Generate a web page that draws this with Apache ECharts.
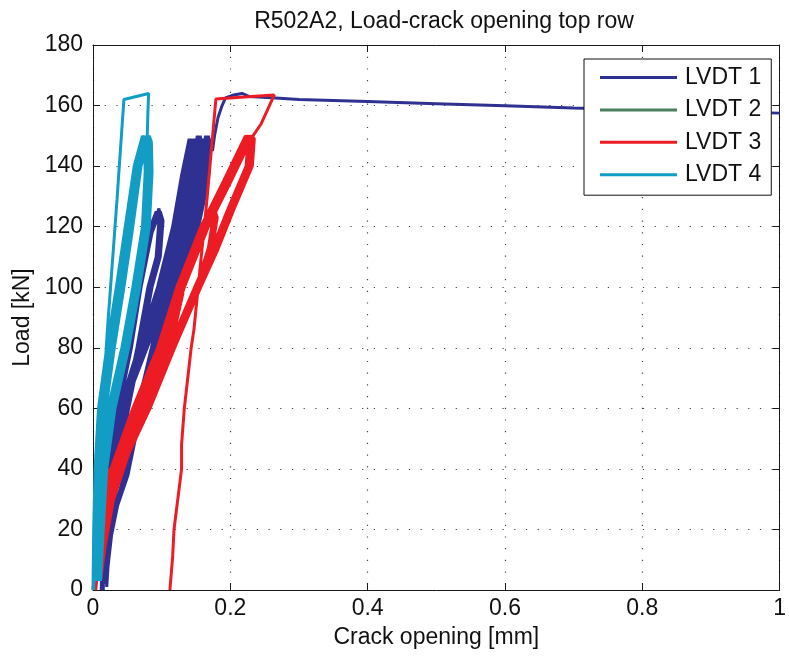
<!DOCTYPE html>
<html>
<head>
<meta charset="utf-8">
<script src="https://cdn.jsdelivr.net/npm/echarts@6/dist/echarts.min.js"></script>
<style>html,body{margin:0;padding:0;background:#fff}#c{width:789px;height:659px}</style>
</head>
<body>
<div id="c"></div>
<script>
const titleText = 'R502A2, Load-crack opening top row';
const xName = 'Crack opening [mm]';
const yName = 'Load [kN]';
const seriesNames = ['LVDT 1', 'LVDT 2', 'LVDT 3', 'LVDT 4'];
const seriesColors = ['#2e3192', '#4b7f5e', '#ed1c24', '#119dc4'];

// LVDT 1 : [crack opening mm, load kN]
const lvdt1 = [
  [0.012,0],[0.014,20],[0.018,40],[0.016,25],[0.014,5],
  [0.015,0],[0.016,20],[0.021,40],[0.032,60],[0.050,80],[0.064,100],[0.080,118],[0.092,125],
  [0.096,122],[0.092,110],[0.080,100],[0.064,80],[0.046,60],[0.032,40],[0.022,20],[0.017,2],
  [0.017,20],[0.022,40],[0.033,60],[0.051,80],[0.065,100],[0.081,118],[0.093,125],
  [0.097,122],[0.093,110],[0.081,100],[0.065,80],[0.047,60],[0.033,40],[0.023,20],[0.017,2],
  [0.018,20],[0.023,40],[0.034,60],[0.052,80],[0.066,100],[0.082,118],[0.094,125],
  [0.098,122],[0.094,110],[0.082,100],[0.066,80],[0.048,60],[0.034,40],[0.024,20],[0.018,2],
  [0.019,20],[0.024,40],[0.035,60],[0.053,80],[0.067,100],[0.083,118],[0.095,125],
  [0.099,122],[0.095,110],[0.083,100],[0.067,80],[0.049,60],[0.035,40],[0.024,20],[0.018,2],
  [0.020,20],[0.025,40],[0.036,60],[0.054,80],[0.068,100],[0.084,118],[0.096,126],
  [0.100,122],[0.096,110],[0.084,100],[0.068,80],[0.050,60],[0.036,40],[0.025,20],[0.019,2],
  [0.020,20],[0.026,40],[0.037,60],[0.055,80],[0.069,100],[0.085,118],[0.097,125],
  [0.101,122],[0.097,110],[0.085,100],[0.069,80],[0.051,60],[0.037,40],[0.025,20],[0.019,2],
  [0.021,20],[0.027,40],[0.038,60],[0.056,80],[0.070,100],[0.086,118],[0.098,125],
  [0.102,122],[0.098,110],[0.086,100],[0.070,80],[0.052,60],[0.038,40],[0.026,20],[0.020,2],
  [0.018,20],[0.024,40],[0.038,60],[0.066,80],[0.094,100],[0.116,120],[0.129,137],[0.140,149],
  [0.143,147],[0.140,135],[0.124,118],[0.104,100],[0.085,80],[0.064,60],[0.055,48],[0.045,38],[0.033,28],[0.026,18],[0.022,8],[0.020,1],
  [0.018,20],[0.025,40],[0.039,60],[0.067,80],[0.096,100],[0.120,120],[0.133,137],[0.144,149],
  [0.147,147],[0.144,135],[0.128,118],[0.106,100],[0.087,80],[0.065,60],[0.055,48],[0.046,38],[0.033,28],[0.026,18],[0.022,8],[0.020,1],
  [0.019,20],[0.025,40],[0.040,60],[0.069,80],[0.099,100],[0.123,120],[0.137,137],[0.148,149],
  [0.151,147],[0.148,135],[0.132,118],[0.108,100],[0.089,80],[0.066,60],[0.056,48],[0.047,38],[0.034,28],[0.026,18],[0.022,8],[0.020,1],
  [0.019,20],[0.025,40],[0.040,60],[0.070,80],[0.101,100],[0.127,120],[0.141,137],[0.152,150],
  [0.155,147],[0.152,135],[0.136,118],[0.110,100],[0.091,80],[0.066,60],[0.056,48],[0.047,38],[0.034,28],[0.026,18],[0.022,8],[0.020,1],
  [0.019,20],[0.026,40],[0.041,60],[0.072,80],[0.104,100],[0.130,120],[0.145,137],[0.156,150],
  [0.159,147],[0.156,135],[0.140,118],[0.112,100],[0.093,80],[0.067,60],[0.057,48],[0.048,38],[0.035,28],[0.027,18],[0.022,8],[0.020,1],
  [0.020,20],[0.026,40],[0.042,60],[0.074,80],[0.106,100],[0.134,120],[0.149,137],[0.160,149],
  [0.163,147],[0.160,135],[0.144,118],[0.114,100],[0.095,80],[0.068,60],[0.058,48],[0.049,38],[0.035,28],[0.027,18],[0.022,8],[0.020,1],
  [0.020,20],[0.027,40],[0.043,60],[0.076,80],[0.108,100],[0.138,120],[0.153,137],[0.164,150],
  [0.167,147],[0.164,135],[0.148,118],[0.116,100],[0.097,80],[0.069,60],[0.059,48],[0.050,38],[0.036,28],[0.027,18],[0.022,8],[0.020,1],
  [0.020,20],[0.027,40],[0.044,60],[0.078,80],[0.111,100],[0.141,120],[0.157,137],[0.168,150],
  [0.171,147],[0.168,135],[0.152,118],[0.118,100],[0.099,80],[0.070,60],[0.060,48],[0.051,38],[0.036,28],[0.027,18],[0.022,8],[0.020,1],
  [0.020,20],[0.028,40],[0.045,60],[0.079,80],[0.113,100],[0.145,120],[0.161,137],[0.172,149],
  [0.174,145],[0.177,150],[0.182,156],[0.188,160],[0.193,162.5],[0.205,163.5],[0.217,164],[0.227,163],
  [0.260,162.6],[0.300,162],[0.400,161.3],[0.500,160.6],[0.600,159.9],[0.700,159.2],[0.800,158.6],[0.900,158],[1.000,157.5]
];

// LVDT 2 : no visible data in the reference
const lvdt2 = [];

// LVDT 3
const lvdt3 = [
  [0.000,0],[0.004,10],[0.008,20],[0.014,30],[0.024,40],[0.020,35],[0.012,20],[0.006,5],
  [0.004,0],[0.006,10],[0.009,20],[0.015,30],[0.026,40],[0.042,50],[0.058,60],[0.094,80],[0.122,100],[0.126,101],
  [0.128,98],[0.118,88],[0.100,75],[0.074,60],[0.043,45],[0.025,30],[0.014,15],[0.008,3],
  [0.007,10],[0.011,20],[0.017,30],[0.029,40],[0.045,50],[0.061,60],[0.097,80],[0.125,100],[0.129,101],
  [0.131,98],[0.121,88],[0.103,75],[0.077,60],[0.046,45],[0.027,30],[0.016,15],[0.009,3],
  [0.007,10],[0.010,20],[0.017,30],[0.028,40],[0.044,50],[0.060,60],[0.096,80],[0.124,100],[0.159,120],[0.172,125],
  [0.175,123],[0.168,113],[0.150,100],[0.112,80],[0.076,60],[0.045,45],[0.026,30],[0.015,15],[0.009,3],
  [0.008,10],[0.012,20],[0.019,30],[0.031,40],[0.047,50],[0.063,60],[0.099,80],[0.127,100],[0.162,120],[0.175,125],
  [0.178,123],[0.171,113],[0.153,100],[0.115,80],[0.079,60],[0.048,45],[0.028,30],[0.016,15],[0.010,3],
  [0.009,10],[0.014,20],[0.021,30],[0.034,40],[0.050,50],[0.066,60],[0.102,80],[0.130,100],[0.165,120],[0.178,125],
  [0.181,123],[0.174,113],[0.156,100],[0.118,80],[0.082,60],[0.051,45],[0.030,30],[0.018,15],[0.010,3],
  [0.006,10],[0.009,20],[0.015,30],[0.026,40],[0.042,50],[0.058,60],[0.094,80],[0.122,100],[0.157,120],[0.190,135],[0.222,150],
  [0.226,149],[0.223,140],[0.195,125],[0.172,112],[0.148,100],[0.110,80],[0.074,60],[0.043,45],[0.025,30],[0.014,15],[0.008,3],
  [0.007,10],[0.010,20],[0.016,30],[0.0275,40],[0.0435,50],[0.0595,60],[0.0955,80],[0.1235,100],[0.1585,120],[0.1915,135],[0.2235,150],
  [0.2275,149],[0.2245,140],[0.1965,125],[0.1735,112],[0.1495,100],[0.1115,80],[0.0755,60],[0.0445,45],[0.026,30],[0.015,15],[0.008,3],
  [0.008,10],[0.011,20],[0.017,30],[0.029,40],[0.045,50],[0.061,60],[0.097,80],[0.125,100],[0.160,120],[0.193,135],[0.225,150],
  [0.229,149],[0.226,140],[0.198,125],[0.175,112],[0.151,100],[0.113,80],[0.077,60],[0.046,45],[0.027,30],[0.016,15],[0.009,3],
  [0.008,10],[0.012,20],[0.019,30],[0.0305,40],[0.0465,50],[0.0625,60],[0.0985,80],[0.1265,100],[0.1615,120],[0.1945,135],[0.2265,150],
  [0.2305,149],[0.2275,140],[0.1995,125],[0.1765,112],[0.1525,100],[0.1145,80],[0.0785,60],[0.0475,45],[0.028,30],[0.016,15],[0.009,3],
  [0.009,10],[0.013,20],[0.020,30],[0.032,40],[0.048,50],[0.064,60],[0.100,80],[0.128,100],[0.163,120],[0.196,135],[0.228,150],
  [0.232,149],[0.229,140],[0.201,125],[0.178,112],[0.154,100],[0.116,80],[0.080,60],[0.049,45],[0.029,30],[0.017,15],[0.010,3],
  [0.009,10],[0.014,20],[0.021,30],[0.0335,40],[0.0495,50],[0.0655,60],[0.1015,80],[0.1295,100],[0.1645,120],[0.1975,135],[0.2295,150],
  [0.2335,149],[0.2305,140],[0.2025,125],[0.1795,112],[0.1555,100],[0.1175,80],[0.0815,60],[0.0505,45],[0.030,30],[0.017,15],[0.010,3],
  [0.010,10],[0.014,20],[0.022,30],[0.035,40],[0.051,50],[0.067,60],[0.103,80],[0.131,100],[0.166,120],[0.199,135],[0.231,150],
  [0.235,149],[0.232,140],[0.204,125],[0.181,112],[0.157,100],[0.119,80],[0.083,60],[0.052,45],[0.030,30],[0.018,15],[0.011,3],
  [0.012,10],[0.016,20],[0.024,30],[0.037,40],[0.053,50],[0.069,60],[0.105,80],[0.133,100],[0.168,120],[0.201,135],[0.233,150],
  [0.245,154],[0.255,159],[0.264,163.5],[0.220,162.8],[0.179,162.2],[0.166,129],[0.147,86],[0.143,80],[0.133,60],
  [0.129,48],[0.129,40],[0.118,20],[0.116,11],[0.112,0]
];

// LVDT 4
const lvdt4 = [
  [0.000,0],[0.001,10],[0.002,20],[0.004,30],[0.003,20],[0.001,5],[0.001,20],[0.003,40],[0.006,50],[0.004,35],[0.002,20],[0.001,5],
  [0.000,0],[0.001,20],[0.003,40],[0.008,60],[0.020,80],[0.034,100],[0.047,120],[0.060,140],[0.072,150],
  [0.075,148],[0.076,138],[0.072,120],[0.058,100],[0.042,80],[0.022,60],[0.010,40],[0.005,20],[0.002,3],
  [0.0025,20],[0.0045,40],[0.0095,60],[0.0215,80],[0.0355,100],[0.0485,120],[0.0615,140],[0.0735,150],
  [0.0765,148],[0.0775,138],[0.0735,120],[0.0595,100],[0.0435,80],[0.0235,60],[0.0115,40],[0.0065,20],[0.0035,3],
  [0.004,20],[0.006,40],[0.011,60],[0.023,80],[0.037,100],[0.050,120],[0.063,140],[0.075,150],
  [0.078,148],[0.079,138],[0.075,120],[0.061,100],[0.045,80],[0.025,60],[0.013,40],[0.008,20],[0.005,3],
  [0.006,20],[0.008,40],[0.013,60],[0.025,80],[0.039,100],[0.052,120],[0.065,140],[0.077,150],
  [0.080,148],[0.081,138],[0.077,120],[0.063,100],[0.047,80],[0.027,60],[0.015,40],[0.010,20],[0.007,3],
  [0.0075,20],[0.0095,40],[0.0145,60],[0.0265,80],[0.0405,100],[0.0535,120],[0.0665,140],[0.0785,150],
  [0.0815,148],[0.0825,138],[0.0785,120],[0.0645,100],[0.0485,80],[0.0285,60],[0.0165,40],[0.0115,20],[0.0085,3],
  [0.009,20],[0.011,40],[0.016,60],[0.028,80],[0.042,100],[0.055,120],[0.068,140],[0.080,150],
  [0.083,148],[0.084,138],[0.080,120],[0.066,100],[0.050,80],[0.030,60],[0.018,40],[0.013,20],[0.010,3],
  [0.011,20],[0.013,40],[0.018,60],[0.030,80],[0.044,100],[0.057,120],[0.070,140],[0.082,150],
  [0.085,148],[0.086,138],[0.082,120],[0.068,100],[0.052,80],[0.032,60],[0.020,40],[0.015,20],[0.011,3],
  [0.012,20],[0.014,40],[0.019,60],[0.031,80],[0.045,100],[0.058,120],[0.070,140],[0.079,150],
  [0.080,158],[0.081,164],[0.045,162],[0.035,129],[0.021,86],[0.0145,63],[0.008,40],[0.003,15],[0.001,0]
];

const xTickStep = 0.2;
const yTickStep = 20;

const FONT = '"Liberation Sans", Arial, Helvetica, sans-serif';
const chart = echarts.init(document.getElementById('c'), null, {renderer: 'canvas'});
const dataSets = [lvdt1, lvdt2, lvdt3, lvdt4];

const axisLineStyle = {color: '#1a1a1a', width: 1};
const gridLine = {show: true, lineStyle: {color: '#444', width: 1.2, type: [1.2, 10.5]}};

chart.setOption({
  animation: false,
  backgroundColor: '#fff',
  title: {
    text: titleText, left: 439, top: 5, textAlign: 'center',
    textStyle: {fontFamily: FONT, fontSize: 23, fontWeight: 'normal', color: '#111'}
  },
  grid: {left: 93, right: 4, top: 45, bottom: 69, containLabel: false},
  legend: {
    orient: 'vertical', left: 584, top: 59,
    backgroundColor: '#fff', borderColor: '#111', borderWidth: 1,
    padding: [7, 10, 9, 16], itemWidth: 77, itemHeight: 3, itemGap: 9.4,
    icon: 'rect',
    textStyle: {fontFamily: FONT, fontSize: 23, color: '#111', lineHeight: 20, padding: [0, 0, 0, 3]},
    data: seriesNames, z: 10
  },
  xAxis: [{
    type: 'value', min: 0, max: 1, interval: xTickStep, position: 'bottom',
    name: xName, nameLocation: 'middle', nameGap: 36,
    nameTextStyle: {fontFamily: FONT, fontSize: 23, color: '#111'},
    axisLine: {show: true, onZero: false, lineStyle: axisLineStyle},
    axisTick: {show: true, inside: true, length: 7, lineStyle: axisLineStyle},
    axisLabel: {fontFamily: FONT, fontSize: 23, color: '#111', margin: 7},
    splitLine: gridLine
  }, {
    type: 'value', min: 0, max: 1, interval: xTickStep, position: 'top',
    axisLine: {show: true, onZero: false, lineStyle: axisLineStyle},
    axisTick: {show: true, inside: true, length: 7, lineStyle: axisLineStyle},
    axisLabel: {show: false}, splitLine: {show: false}
  }],
  yAxis: [{
    type: 'value', min: 0, max: 180, interval: yTickStep, position: 'left',
    name: yName, nameLocation: 'middle', nameGap: 56, nameRotate: 90,
    nameTextStyle: {fontFamily: FONT, fontSize: 23, color: '#111'},
    axisLine: {show: true, onZero: false, lineStyle: axisLineStyle},
    axisTick: {show: true, inside: true, length: 7, lineStyle: axisLineStyle},
    axisLabel: {fontFamily: FONT, fontSize: 23, color: '#111', margin: 10},
    splitLine: gridLine
  }, {
    type: 'value', min: 0, max: 180, interval: yTickStep, position: 'right',
    axisLine: {show: true, onZero: false, lineStyle: axisLineStyle},
    axisTick: {show: true, inside: true, length: 7, lineStyle: axisLineStyle},
    axisLabel: {show: false}, splitLine: {show: false}
  }],
  series: seriesNames.map((n, i) => ({
    name: n, type: 'line', xAxisIndex: 0, yAxisIndex: 0,
    data: dataSets[i], symbol: 'none', showSymbol: false,
    lineStyle: {width: 3, color: seriesColors[i]}, itemStyle: {color: seriesColors[i]},
    clip: true, z: 2 + i
  }))
});
</script>
</body>
</html>
